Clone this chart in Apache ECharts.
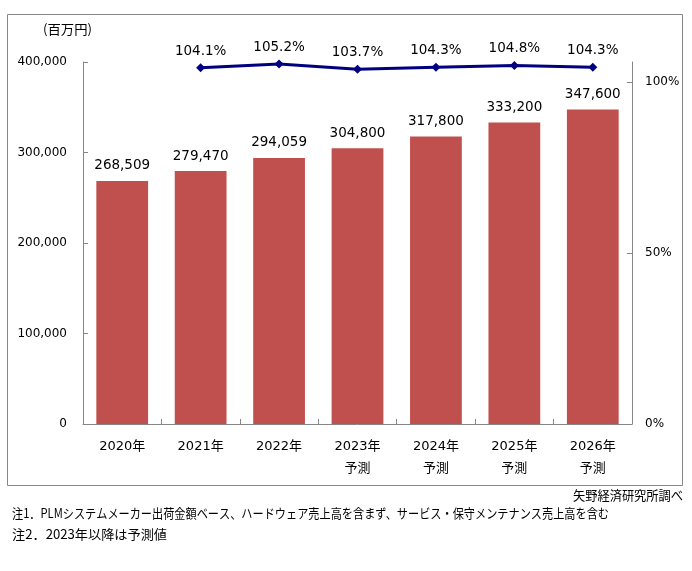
<!DOCTYPE html>
<html><head><meta charset="utf-8">
<script src="https://cdn.jsdelivr.net/npm/echarts@6/dist/echarts.min.js"></script>
<style>html,body{margin:0;padding:0;background:#fff}#c{width:692px;height:571px}</style>
</head><body><div id="c"></div>
<script>
const categories = ['2020年','2021年','2022年','2023年\n予測','2024年\n予測','2025年\n予測','2026年\n予測'];
const salesValues = [268509, 279470, 294059, 304800, 317800, 333200, 347600];
const growthValues = [null, 104.1, 105.2, 103.7, 104.3, 104.8, 104.3];
const leftTicks = [0, 100000, 200000, 300000, 400000];
const rightTicks = [0, 50, 100];
const unitLabel = '(百万円)';
const sourceText = '矢野経済研究所調べ';
const note1 = '注1．PLMシステムメーカー出荷金額ベース、ハードウェア売上高を含まず、サービス・保守メンテナンス売上高を含む';
const note2 = '注2．2023年以降は予測値';

const latin = '"DejaVu Sans", Verdana, sans-serif';
const cjk = '"DejaVu Sans", "Noto Sans CJK JP", sans-serif';
const axisColor = '#868686';
const noteFont = '13px "Noto Sans CJK JP", sans-serif';

const mctx = document.createElement('canvas').getContext('2d');
function fitScale(text, font, target) {
  mctx.font = font;
  return target / mctx.measureText(text).width;
}
function fittedText(text, font, x, y, target, align) {
  const s = fitScale(text, font, target);
  return {type: 'text', x: x, y: y, scaleX: s, scaleY: 1, originX: 0, originY: 0,
    style: {text: text, font: font, fill: '#000', align: align || 'left', verticalAlign: 'middle'}};
}

const chart = echarts.init(document.getElementById('c'), null, {renderer: 'canvas'});
chart.setOption({
  animation: false,
  backgroundColor: '#fff',
  grid: {left: 83, right: 60, top: 62, bottom: 147, containLabel: false},
  xAxis: {
    type: 'category', data: categories,
    axisLine: {lineStyle: {color: axisColor, width: 1}},
    axisTick: {show: true, inside: true, length: 5, alignWithLabel: false, lineStyle: {color: axisColor}},
    axisLabel: {color: '#000', fontFamily: cjk, fontSize: 13, lineHeight: 22, margin: 12, interval: 0}
  },
  yAxis: [{
    type: 'value', min: 0, max: 400000, interval: 100000,
    axisLine: {show: true, lineStyle: {color: axisColor}},
    axisTick: {show: true, inside: true, length: 5, lineStyle: {color: axisColor}, customValues: leftTicks},
    splitLine: {show: false},
    axisLabel: {color: '#000', fontFamily: latin, fontSize: 12, margin: 16, customValues: leftTicks,
      formatter: v => v.toLocaleString('en-US')}
  }, {
    type: 'value', min: 0, max: 105.8, interval: 50, position: 'right',
    axisLine: {show: true, lineStyle: {color: axisColor}},
    axisTick: {show: true, inside: true, length: 5, lineStyle: {color: axisColor}, customValues: rightTicks},
    splitLine: {show: false},
    axisLabel: {color: '#000', fontFamily: latin, fontSize: 12, margin: 13, customValues: rightTicks,
      formatter: v => v + '%'}
  }],
  series: [{
    type: 'bar', data: salesValues, yAxisIndex: 0, barCategoryGap: '34%',
    itemStyle: {color: '#C0504D'},
    label: {show: true, position: 'top', distance: 8, color: '#000', fontFamily: latin, fontSize: 13.5,
      formatter: p => p.value.toLocaleString('en-US')}
  }, {
    type: 'line', data: growthValues, yAxisIndex: 1,
    lineStyle: {color: '#000080', width: 3},
    itemStyle: {color: '#000080'},
    symbol: 'diamond', symbolSize: 9, showAllSymbol: true,
    label: {show: true, position: 'top', distance: 5, color: '#000', fontFamily: latin, fontSize: 13.5,
      formatter: p => p.value.toFixed(1) + '%'}
  }],
  graphic: [
    {type: 'rect', shape: {x: 7.5, y: 14.5, width: 675, height: 471}, style: {fill: null, stroke: '#868686', lineWidth: 1}, silent: true},
    fittedText(unitLabel, '13px "Noto Sans CJK JP", sans-serif', 43, 29, 49),
    fittedText(sourceText, noteFont, 573, 495, 110),
    fittedText(note1, noteFont, 12, 513, 597),
    fittedText(note2, noteFont, 12, 534, 155)
  ]
});
</script></body></html>
